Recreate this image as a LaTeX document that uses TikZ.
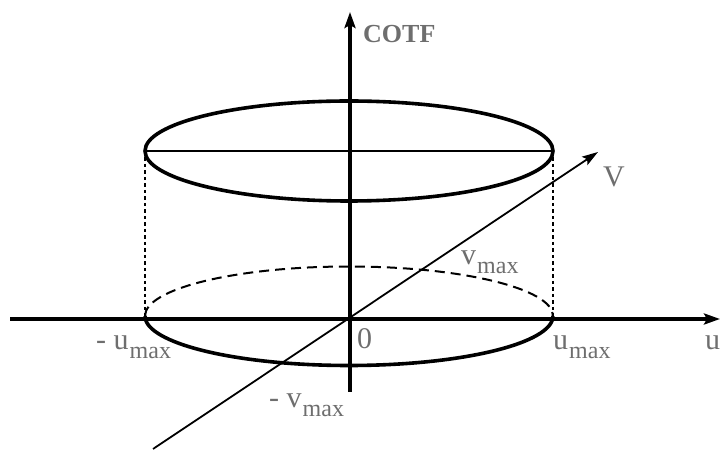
\documentclass[tikz,border=0pt]{standalone}
\usepackage{fontspec}
\setmainfont{Liberation Serif}
\usetikzlibrary{arrows.meta}
\definecolor{labelgray}{HTML}{6E6E6E}
\tikzset{
  axisline/.style={line width=4.4pt, -{Stealth[length=16pt,width=11pt,inset=3pt]}},
  rimline/.style={line width=3.6pt},
  thinline/.style={line width=1.8pt},
  backrim/.style={line width=2pt, dash pattern=on 10pt off 6pt},
  dropline/.style={line width=2.4pt, dash pattern=on 3.5pt off 3pt},
  lbl/.style={text=labelgray, inner sep=0pt, anchor=base west, font=\fontsize{30}{30}\selectfont},
}
\newcommand{\subm}{{\fontsize{24}{24}\selectfont\raisebox{-9pt}{max}}}
\begin{document}
\begin{tikzpicture}[x=1pt,y=1pt]
\useasboundingbox (0,0) rectangle (721,450);
% named points
\coordinate (O) at (350,131);
\coordinate (hL) at (10,131);
\coordinate (hR) at (720,131);
\coordinate (vB) at (350,58);
\coordinate (vT) at (350,438);
\coordinate (dS) at (153,1);
\coordinate (dE) at (598,298);
\coordinate (topC) at (349,299);
\coordinate (topL) at (145,299);
\coordinate (topR) at (553,299);
\coordinate (botC) at (349,134);
\coordinate (botL) at (145,134);
\coordinate (botR) at (553,134);
% bottom ellipse: back half dashed, front half solid
\draw[backrim] (botL) arc[start angle=180, end angle=0, x radius=204, y radius=49.5];
\draw[rimline] (botL) arc[start angle=180, end angle=360, x radius=204, y radius=49.5];
% dotted drop lines
\draw[dropline] (topL) -- (botL);
\draw[dropline] (topR) -- (botR);
% top ellipse and chord
\draw[rimline] (topC) ellipse [x radius=204, y radius=50];
\draw[thinline] (topL) -- (topR);
% axes
\draw[axisline] (hL) -- (hR);
\draw[axisline] (vB) -- (vT);
\draw[thinline, -{Stealth[length=16pt,width=10pt,inset=3pt]}] (dS) -- (dE);
% labels
\node[lbl, font=\fontsize{26}{26}\selectfont\bfseries] (cotf) at (363,407) {COTF};
\node[lbl] (vlab) at (603,263) {V};
\node[lbl] (ulab) at (705,100) {u};
\node[lbl] (umaxR) at (553,100) {u\kern1pt\subm};
\node[lbl] (umaxL) at (96,100) {- u\kern1pt\subm};
\node[lbl] (vmaxU) at (461,185) {v\kern1pt\subm};
\node[lbl] (vmaxL) at (269,42) {- v\kern1pt\subm};
\node[lbl] (zero) at (357,101) {0};
\end{tikzpicture}
\end{document}
